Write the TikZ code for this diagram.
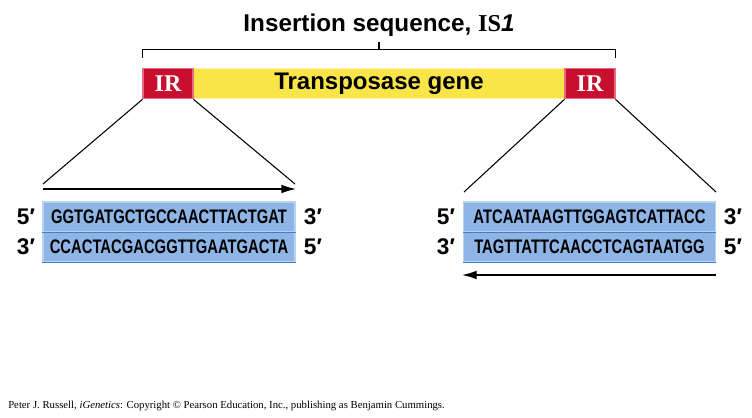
\documentclass[tikz,border=0pt]{standalone}
\usepackage{fontspec}
\usepackage{graphicx}
\setmainfont{Liberation Serif}
\newfontfamily\arialfont{Liberation Sans}
\usetikzlibrary{arrows.meta}

\definecolor{irred}{HTML}{C8102E}
\definecolor{irrededge}{HTML}{E86A82}
\definecolor{geneyellow}{HTML}{F9E547}
\definecolor{geneedge}{HTML}{FDF4A8}
\definecolor{strandblue}{HTML}{8EB5E6}
\definecolor{strandedge}{HTML}{B8D2F2}
\definecolor{stranddark}{HTML}{3F7FC8}

\newcommand{\seqtext}[1]{\scalebox{0.755}[1]{\arialfont\bfseries\fontsize{14.7}{15}\selectfont #1}}

\tikzset{
  irbox/.style={draw=irrededge, line width=0.8pt, fill=irred, minimum width=37.5pt,
    minimum height=23pt, inner sep=0pt, text=white, font=\bfseries\fontsize{18}{18}\selectfont},
  genebox/.style={draw=geneedge, line width=0.8pt, fill=geneyellow, minimum width=279pt,
    minimum height=23pt, inner sep=0pt, font=\arialfont\bfseries\fontsize{18}{18}\selectfont},
  strand/.style={draw=strandedge, line width=0.8pt, fill=strandblue, minimum width=189pt,
    minimum height=22.5pt, inner sep=0pt},
  strandbase/.style={draw=stranddark, line width=0.9pt},
  endlabel/.style={font=\arialfont\bfseries\fontsize{17}{17}\selectfont, inner sep=0pt},
  link/.style={line width=0.8pt},
  readarrow/.style={line width=1pt, -{Latex[length=11pt,width=6.5pt]}},
}

\begin{document}
\begin{tikzpicture}[x=0.75pt, y=-0.75pt]
\useasboundingbox (0,0) rectangle (752,417);

\node (title) at (379,25) {\arialfont\bfseries\fontsize{18.2}{19}\selectfont Insertion sequence, {\rmfamily IS}\textit{1}};

\node[genebox] (gene) at (379,83.5) {Transposase gene};
\node[irbox] (irL) at (168,83.5) {IR};
\node[irbox] (irR) at (590,83.5) {IR};

\coordinate (brace) at (379,42);
\draw[link] ([yshift=7.5pt]irL.north west) -- ++(0,-8) -| ([yshift=7.5pt]irR.north east);
\draw[link] (brace) -- ++(0,8);

\node[strand] (topL) at (169,217) {\seqtext{GGTGATGCTGCCAACTTACTGAT}};
\node[strand] (botL) at (169,247) {\seqtext{CCACTACGACGGTTGAATGACTA}};
\node[strand] (topR) at (589.5,217) {\seqtext{ATCAATAAGTTGGAGTCATTACC}};
\node[strand] (botR) at (589.5,247) {\seqtext{TAGTTATTCAACCTCAGTAATGG}};

\draw[strandbase] (topL.south west) -- (topL.south east);
\draw[strandbase] (botL.south west) -- (botL.south east);
\draw[strandbase] (topR.south west) -- (topR.south east);
\draw[strandbase] (botR.south west) -- (botR.south east);

\node[endlabel] (p5tL) at (26,217) {5′};
\node[endlabel] (p3tL) at (313,217) {3′};
\node[endlabel] (p3bL) at (26,247) {3′};
\node[endlabel] (p5bL) at (313,247) {5′};
\node[endlabel] (p5tR) at (446,217) {5′};
\node[endlabel] (p3tR) at (733,217) {3′};
\node[endlabel] (p3bR) at (446,247) {3′};
\node[endlabel] (p5bR) at (733,247) {5′};

\coordinate (zoomL1) at (43,184);
\coordinate (zoomL2) at (295,184);
\coordinate (zoomR1) at (464,192);
\coordinate (zoomR2) at (716,192);

\draw[link] (irL.south west) -- (zoomL1);
\draw[link] (irL.south east) -- (zoomL2);
\draw[link] (irR.south west) -- (zoomR1);
\draw[link] (irR.south east) -- (zoomR2);

\coordinate (arrL1) at (43,189);
\coordinate (arrL2) at (296,189);
\coordinate (arrR1) at (716,275);
\coordinate (arrR2) at (462,275);

\draw[readarrow] (arrL1) -- (arrL2);
\draw[readarrow] (arrR1) -- (arrR2);

\node[anchor=west, inner sep=0pt, font=\fontsize{8.05}{9}\selectfont] (credit) at (8,406)
  {Peter J. Russell, \textit{iGenetics}: Copyright © Pearson Education, Inc., publishing as Benjamin Cummings.};

\end{tikzpicture}
\end{document}
